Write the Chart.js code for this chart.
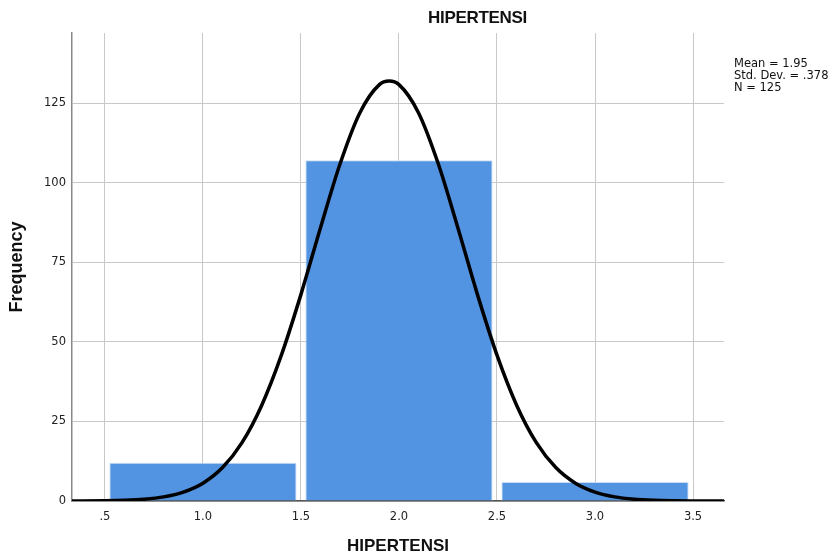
<!DOCTYPE html>
<html lang="en">
<head>
    <meta charset="UTF-8">
    <title>HIPERTENSI</title>
    <script src="https://cdn.jsdelivr.net/npm/chart.js"></script>
    <style>
        body {
            margin: 0;
            background: #fff;
        }
        #wrap {
            position: relative;
            width: 836px;
            height: 558px;
        }
        #title {
            position: absolute;
            left: 428px;
            top: 8px;
            font-family: "Liberation Sans", Arial, sans-serif;
            font-weight: bold;
            font-size: 17px;
            line-height: 20px;
            color: #111;
            letter-spacing: -0.3px;
        }
        #stats {
            position: absolute;
            left: 734px;
            top: 57px;
            font-family: "DejaVu Sans", sans-serif;
            font-size: 11.5px;
            line-height: 12px;
            color: #111;
            white-space: pre;
        }
    </style>
</head>
<body>
    <div id="wrap">
        <canvas id="chart" width="836" height="558"></canvas>
        <div id="title"></div>
        <div id="stats"></div>
    </div>
    <script>
        const chartTitle = 'HIPERTENSI';

        // histogram bins (value 1, 2, 3)
        const binCenters = [1, 2, 3];
        const binCounts = [12, 107, 6];

        // normal curve
        const curveX = [0.33, 0.5, 0.6, 0.7, 0.8, 0.9, 1.0, 1.1, 1.2, 1.3, 1.4, 1.5, 1.6, 1.7, 1.8, 1.9, 1.95,
                        2.0, 2.1, 2.2, 2.3, 2.4, 2.5, 2.6, 2.7, 2.8, 2.9, 3.0, 3.1, 3.2, 3.3, 3.4, 3.5, 3.66];
        const curveY = [0.01, 0.08, 0.22, 0.56, 1.3, 2.8, 5.6, 10.5, 18.4, 30.1, 45.8, 64.9, 85.9, 106.0, 121.9, 130.8, 131.9,
                        130.8, 121.9, 106.0, 85.9, 64.9, 45.8, 30.1, 18.4, 10.5, 5.6, 2.8, 1.3, 0.56, 0.22, 0.08, 0.03, 0.01];

        const xTickValues = [0.5, 1.0, 1.5, 2.0, 2.5, 3.0, 3.5];
        const yTickValues = [0, 25, 50, 75, 100, 125];
        const statsLines = ['Mean = 1.95', 'Std. Dev. = .378', 'N = 125'];

        document.getElementById('title').textContent = chartTitle;
        document.getElementById('stats').textContent = statsLines.join('\n');

        const tickFont = { family: '"DejaVu Sans", sans-serif', size: 11.5 };
        const axisTitleFont = size => ({ family: '"Liberation Sans", Arial, sans-serif', size: size, weight: 'bold' });

        new Chart(document.getElementById('chart'), {
            data: {
                datasets: [
                    {
                        type: 'line',
                        data: curveX.map((x, i) => ({ x: x, y: curveY[i] })),
                        borderColor: '#000',
                        borderWidth: 3.5,
                        pointRadius: 0,
                        cubicInterpolationMode: 'monotone',
                        fill: false,
                        order: 0
                    },
                    {
                        type: 'bar',
                        data: binCenters.map((x, i) => ({ x: x, y: binCounts[i] })),
                        backgroundColor: '#5294e2',
                        borderColor: '#c9dcf3',
                        borderWidth: 1,
                        // spacing is measured per tick (0.5), so a bin of width 1 spans ~2 ticks
                        barPercentage: 1.91,
                        categoryPercentage: 1,
                        order: 1
                    }
                ]
            },
            options: {
                responsive: false,
                animation: false,
                layout: { padding: { left: 0, right: 112, top: 33, bottom: 0 } },
                plugins: {
                    legend: { display: false },
                    tooltip: { enabled: false },
                    title: { display: false }
                },
                scales: {
                    x: {
                        type: 'linear',
                        min: 0.332,
                        max: 3.658,
                        offset: false,
                        afterBuildTicks: s => { s.ticks = xTickValues.map(v => ({ value: v })); },
                        afterFit: s => { s.height = 57; },
                        ticks: {
                            color: '#222',
                            font: tickFont,
                            padding: 9,
                            callback: v => v.toFixed(1).replace(/^0/, '')
                        },
                        grid: { color: '#c8c8c8', lineWidth: 1, offset: false, drawTicks: false, tickLength: 0 },
                        border: { color: '#555', width: 1.5 },
                        title: {
                            display: true,
                            text: 'HIPERTENSI',
                            color: '#111',
                            font: axisTitleFont(17),
                            padding: { top: 0, bottom: 1 }
                        }
                    },
                    y: {
                        type: 'linear',
                        min: 0,
                        max: 147,
                        afterBuildTicks: s => { s.ticks = yTickValues.map(v => ({ value: v })); },
                        afterFit: s => { s.width = 72; },
                        ticks: {
                            color: '#222',
                            font: tickFont,
                            padding: 6
                        },
                        grid: { color: '#c8c8c8', lineWidth: 1, drawTicks: false, tickLength: 0 },
                        border: { color: '#888', width: 1.5 },
                        title: {
                            display: true,
                            text: 'Frequency',
                            color: '#111',
                            font: axisTitleFont(18),
                            padding: { top: 6, bottom: 0 }
                        }
                    }
                }
            }
        });
    </script>
</body>
</html>
